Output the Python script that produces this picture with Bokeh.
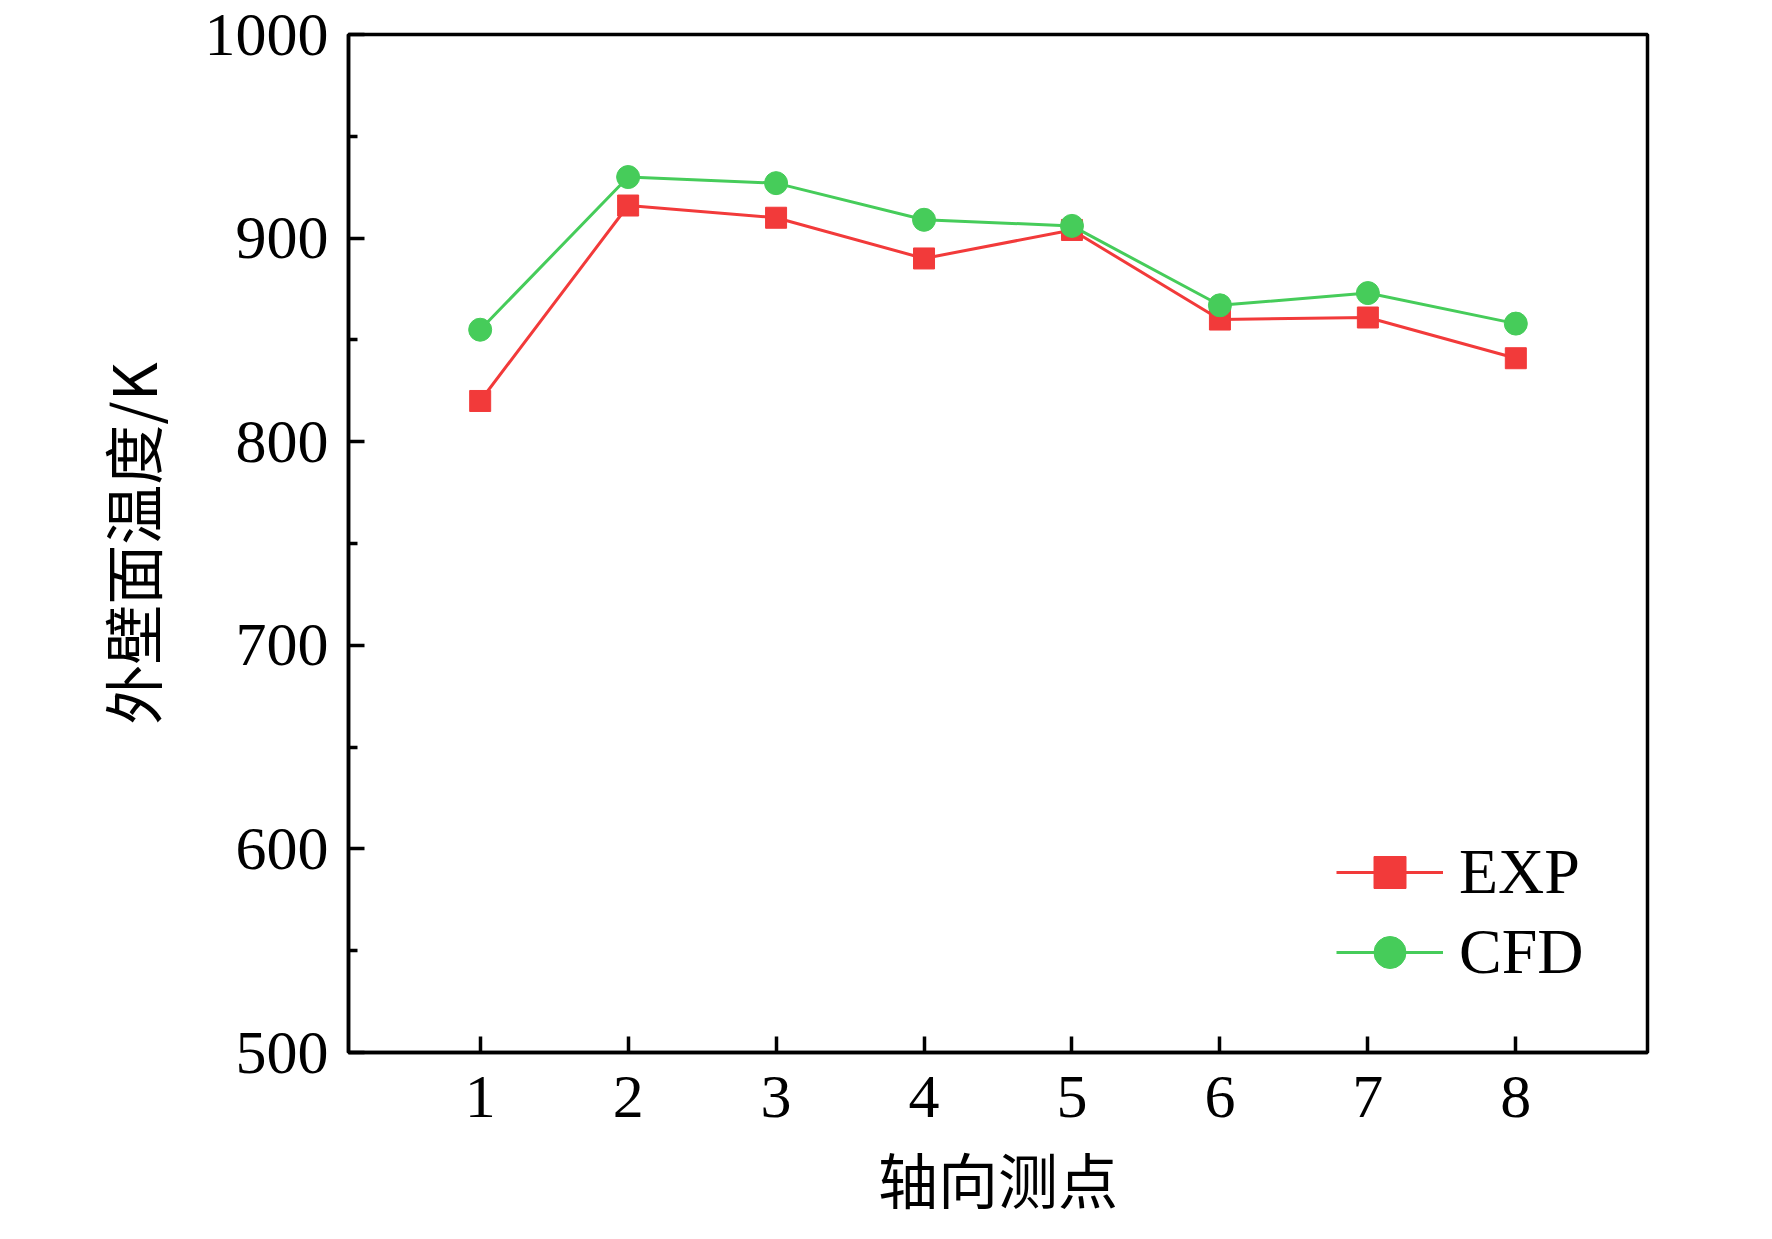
from bokeh.plotting import figure
from bokeh.models import Legend, LegendItem, FixedTicker, Range1d
from bokeh.embed import file_html
from bokeh.resources import INLINE

points = [1, 2, 3, 4, 5, 6, 7, 8]
exp_vals = [820, 916, 910, 890, 904, 860, 861, 841]
cfd_vals = [855, 930, 927, 909, 906, 867, 873, 858]
y_ticks = [500, 600, 700, 800, 900, 1000]

p = figure(width=1756, height=1223, output_backend="svg", toolbar_location=None,
           x_range=Range1d(0.11, 8.89), y_range=Range1d(500, 1000),
           min_border_left=348, min_border_top=34, min_border_right=109, min_border_bottom=169)
p.grid.visible = False
p.outline_line_color = "black"
p.outline_line_width = 3.5

red = "#f23a3a"
green = "#46cc5a"
l1 = p.line(points, exp_vals, color=red, line_width=3)
m1 = p.scatter(points, exp_vals, marker="square", size=21, color=red)
l2 = p.line(points, cfd_vals, color=green, line_width=3)
m2 = p.scatter(points, cfd_vals, marker="circle", size=23, color=green)

for ax in (p.xaxis[0], p.yaxis[0]):
    ax.axis_line_width = 3.5
    ax.major_tick_in = 16
    ax.major_tick_out = 0
    ax.minor_tick_in = 9
    ax.minor_tick_out = 0
    ax.major_tick_line_width = 3.5
    ax.minor_tick_line_width = 3.5
    ax.major_label_text_font = "Liberation Serif"
    ax.major_label_text_font_size = "62px"
    ax.major_label_text_color = "black"
    ax.axis_label_text_font = "Noto Sans CJK SC"
    ax.axis_label_text_font_size = "60px"
    ax.axis_label_text_font_style = "normal"
    ax.axis_label_text_color = "black"

p.xaxis.ticker = FixedTicker(ticks=points)
p.yaxis.ticker = FixedTicker(ticks=y_ticks, minor_ticks=[550, 650, 750, 850, 950])
p.xaxis.axis_label = "轴向测点"
p.yaxis.axis_label = "外壁面温度/K"
p.xaxis.major_label_standoff = 24
p.yaxis.major_label_standoff = 20
p.xaxis.axis_label_standoff = 14
p.yaxis.axis_label_standoff = 28

legend = Legend(items=[LegendItem(label="EXP", renderers=[l1, m1]),
                       LegendItem(label="CFD", renderers=[l2, m2])],
                location=(988, 60), border_line_color=None, background_fill_alpha=0,
                padding=0, spacing=0, margin=0, glyph_width=107, glyph_height=80,
                label_height=80, label_standoff=16,
                label_text_font="Liberation Serif", label_text_font_size="64px",
                label_text_color="black")
p.add_layout(legend)

open("out.html", "w").write(file_html(p, INLINE))
